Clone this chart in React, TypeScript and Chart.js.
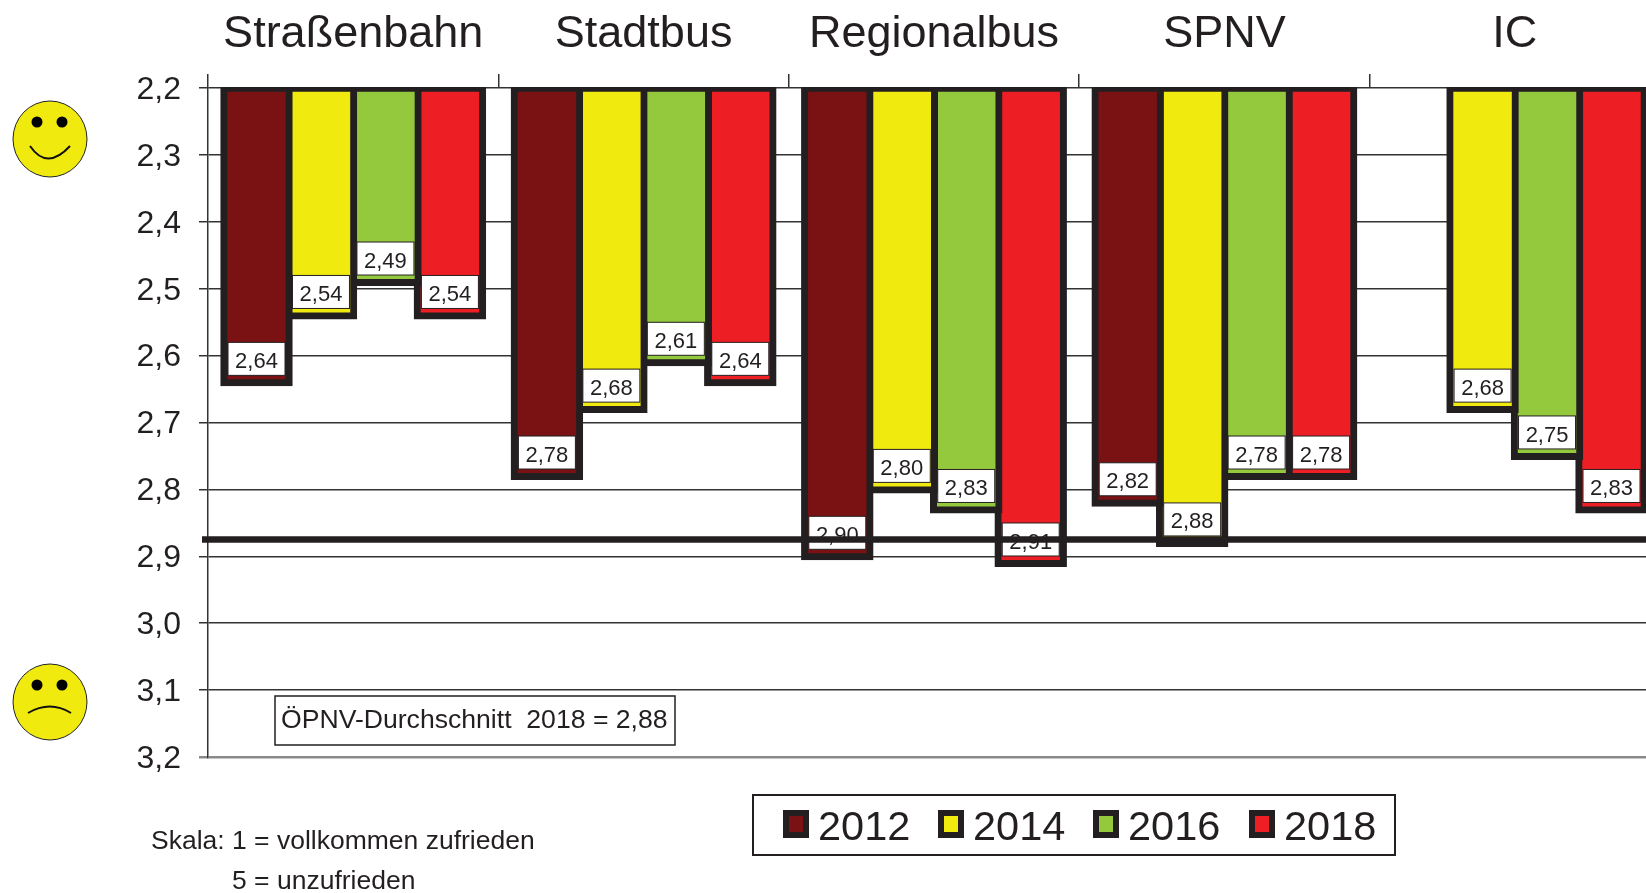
import React, { useEffect, useRef } from "react";
import { Chart, registerables } from "chart.js";

Chart.register(...registerables);

const categories = ["Straßenbahn", "Stadtbus", "Regionalbus", "SPNV", "IC"];
const years = ["2012", "2014", "2016", "2018"];
const values2012 = [2.64, 2.78, 2.9, 2.82, null];
const values2014 = [2.54, 2.68, 2.8, 2.88, 2.68];
const values2016 = [2.49, 2.61, 2.83, 2.78, 2.75];
const values2018 = [2.54, 2.64, 2.91, 2.78, 2.83];
const seriesValues = [values2012, values2014, values2016, values2018];
const seriesColors = ["#7a1214", "#f0ea0e", "#94c83d", "#ee1f24"];
const yTickLabels = ["2,2", "2,3", "2,4", "2,5", "2,6", "2,7", "2,8", "2,9", "3,0", "3,1", "3,2"];
const yMin = 2.2;
const yMax = 3.2;
const averageLine = 2.875;
const averageText = "ÖPNV-Durchschnitt  2018 = 2,88";
const scaleLine1 = "Skala: 1 = vollkommen zufrieden";
const scaleLine2 = "5 = unzufrieden";

const INK = "#231f20";
const FONT = '"Liberation Sans", Arial, sans-serif';

function face(ctx: CanvasRenderingContext2D, cx: number, cy: number, happy: boolean) {
  ctx.save();
  ctx.beginPath();
  ctx.ellipse(cx, cy, 37, 38, 0, 0, Math.PI * 2);
  ctx.fillStyle = "#f0ea0e";
  ctx.fill();
  ctx.lineWidth = 1;
  ctx.strokeStyle = "#222";
  ctx.stroke();
  ctx.fillStyle = "#000";
  [-13, 12].forEach((dx) => {
    ctx.beginPath();
    ctx.arc(cx + dx, cy - 17, 5.5, 0, Math.PI * 2);
    ctx.fill();
  });
  ctx.beginPath();
  ctx.lineWidth = 2;
  ctx.strokeStyle = "#111";
  if (happy) {
    ctx.moveTo(cx - 20, cy + 7);
    ctx.quadraticCurveTo(cx - 3, cy + 32, cx + 20, cy + 7);
  } else {
    ctx.moveTo(cx - 22, cy + 11);
    ctx.quadraticCurveTo(cx, cy - 2, cx + 21, cy + 11);
  }
  ctx.stroke();
  ctx.restore();
}

const overlayPlugin = {
  id: "overlay",
  afterDatasetsDraw(chart: any) {
    const { ctx, scales } = chart;
    const y = scales.y;
    ctx.save();

    // value boxes, anchored on each bar element
    ctx.textAlign = "center";
    ctx.textBaseline = "middle";
    ctx.font = `22px ${FONT}`;
    chart.data.datasets.forEach((ds: any, di: number) => {
      chart.getDatasetMeta(di).data.forEach((bar: any, i: number) => {
        const v = ds.data[i];
        if (v == null) return;
        const bottom = bar.y - 7;
        const h = 33;
        const w = 57;
        ctx.fillStyle = "#fff";
        ctx.fillRect(bar.x - w / 2, bottom - h, w, h);
        ctx.lineWidth = 1;
        ctx.strokeStyle = INK;
        ctx.strokeRect(bar.x - w / 2, bottom - h, w, h);
        ctx.fillStyle = INK;
        ctx.fillText(v.toFixed(2).replace(".", ","), bar.x, bottom - h / 2 + 3);
      });
    });

    // average line
    const ly = y.getPixelForValue(averageLine);
    ctx.beginPath();
    ctx.moveTo(202, ly);
    ctx.lineTo(chart.width, ly);
    ctx.lineWidth = 6.5;
    ctx.strokeStyle = INK;
    ctx.stroke();

    // average box
    ctx.fillStyle = "#fff";
    ctx.fillRect(275, 696, 400, 49);
    ctx.lineWidth = 1.5;
    ctx.strokeRect(275, 696, 400, 49);
    ctx.fillStyle = INK;
    ctx.textAlign = "left";
    ctx.textBaseline = "alphabetic";
    ctx.font = `26.6px ${FONT}`;
    ctx.fillText(averageText, 281, 728);

    // scale note
    ctx.font = `26.5px ${FONT}`;
    ctx.fillText(scaleLine1, 151, 849);
    ctx.fillText(scaleLine2, 232, 889);

    // legend
    ctx.lineWidth = 2;
    ctx.strokeRect(753, 795, 642, 60);
    const markerX = [786, 941, 1096, 1252];
    const textX = [818, 973, 1128, 1284];
    chart.data.datasets.forEach((ds: any, di: number) => {
      ctx.fillStyle = ds.backgroundColor;
      ctx.fillRect(markerX[di], 813, 20, 22);
      ctx.lineWidth = 6;
      ctx.strokeStyle = INK;
      ctx.strokeRect(markerX[di], 813, 20, 22);
      ctx.fillStyle = INK;
      ctx.font = `41.5px ${FONT}`;
      ctx.fillText(ds.label, textX[di], 840);
    });

    face(ctx, 50, 139, true);
    face(ctx, 50, 702, false);
    ctx.restore();
  },
};

export default function App() {
  const ref = useRef<HTMLCanvasElement>(null);
  useEffect(() => {
    document.body.style.background = "#fff";
    const chart = new Chart(ref.current as HTMLCanvasElement, {
      type: "bar",
      data: {
        labels: categories,
        datasets: years.map((label, i) => ({
          label,
          data: seriesValues[i],
          base: yMin,
          backgroundColor: seriesColors[i],
          borderColor: INK,
          borderWidth: 7,
          borderSkipped: false,
          inflateAmount: 4,
          categoryPercentage: 0.888,
          barPercentage: 1,
          clip: { left: 10, right: 10, top: 1, bottom: 10 },
        })),
      } as any,
      options: {
        animation: false,
        responsive: false,
        layout: { padding: { left: 0, top: 0, right: 40, bottom: 136 } },
        plugins: { legend: { display: false }, tooltip: { enabled: false }, title: { display: false } },
        scales: {
          x: {
            position: "top",
            afterFit: (s: any) => {
              s.height = 88;
            },
            border: { display: false },
            grid: {
              offset: true,
              drawOnChartArea: false,
              drawTicks: true,
              tickLength: 14,
              color: "#333",
              lineWidth: 1.5,
            },
            ticks: { color: INK, font: { family: FONT, size: 45 }, padding: 12, maxRotation: 0, autoSkip: false },
          },
          y: {
            reverse: true,
            min: yMin,
            max: yMax,
            afterFit: (s: any) => {
              s.width = 208;
            },
            border: { display: true, color: "#333", width: 1.5 },
            grid: {
              color: (c: any) => (c.tick && c.tick.value > 3.19 ? "#8a8a8a" : "#333"),
              lineWidth: (c: any) => (c.tick && c.tick.value > 3.19 ? 2.5 : 1.5),
              tickLength: 9,
            },
            ticks: {
              stepSize: 0.1,
              color: INK,
              padding: 18,
              labelOffset: 2,
              font: { family: FONT, size: 32 },
              callback: (v: number) => yTickLabels[Math.round((v - yMin) * 10)],
            },
          },
        },
      } as any,
      plugins: [overlayPlugin],
    });
    return () => chart.destroy();
  }, []);
  return (
    <div style={{ position: "fixed", left: 0, top: 0, width: 1646, height: 893, overflow: "hidden", background: "#fff" }}>
      <canvas ref={ref} width={1700} height={893} style={{ display: "block", width: 1700, height: 893 }} />
    </div>
  );
}
